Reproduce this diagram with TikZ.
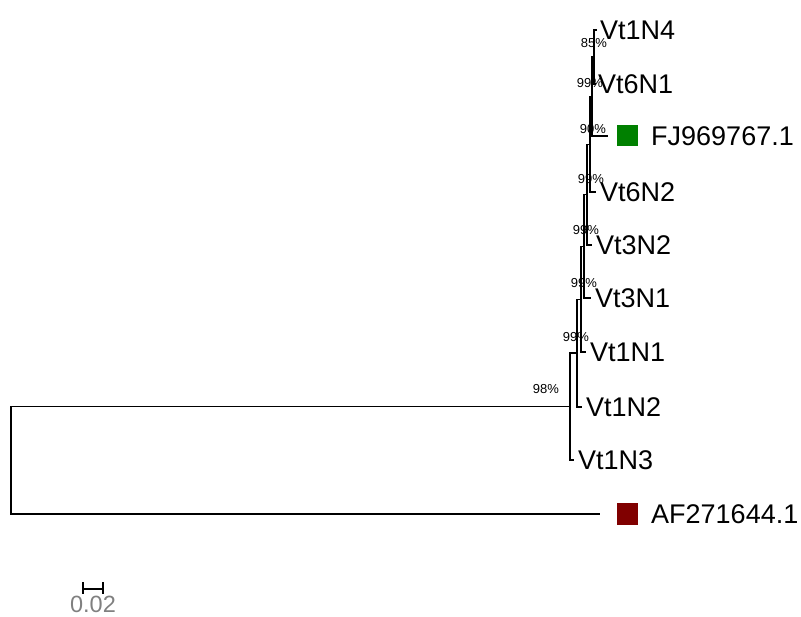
\documentclass[tikz,border=0pt]{standalone}
\usepackage{fontspec}
\setmainfont{Liberation Sans}
\definecolor{fjgreen}{RGB}{0,128,0}
\definecolor{afred}{RGB}{128,0,0}
\begin{document}
\begin{tikzpicture}[x=1pt,y=-1pt,
  branch/.style={line width=1.3pt},
  taxon/.style={anchor=west,inner sep=0pt,font=\fontsize{27}{27}\selectfont},
  boot/.style={inner sep=0pt,font=\fontsize{13}{13}\selectfont},
  tagbox/.style={minimum size=21pt,inner sep=0pt}]
  \useasboundingbox (0,0) rectangle (801,617);
  % leaf tips
  \coordinate (t1) at (597,30);
  \coordinate (t2) at (596,84);
  \coordinate (tFJ) at (608,136);
  \coordinate (t4) at (596,192);
  \coordinate (t5) at (592,245);
  \coordinate (t6) at (591,298);
  \coordinate (t7) at (586,352);
  \coordinate (t8) at (582,407);
  \coordinate (t9) at (574,460);
  \coordinate (tAF) at (600,514);
  % inner nodes
  \coordinate (n85) at (594,57);
  \coordinate (nA) at (592,96.5);
  \coordinate (n90) at (590,144.3);
  \coordinate (nB) at (587,194.6);
  \coordinate (nC) at (584,246.3);
  \coordinate (nD) at (581,299.2);
  \coordinate (nE) at (577,353.1);
  \coordinate (n98) at (570,406.5);
  \coordinate (r) at (11,460.3);
  % branches
  \draw[branch] (r) |- (n98);
  \draw[branch] (r) |- (tAF);
  \draw[branch] (n98) |- (nE);
  \draw[branch] (n98) |- (t9);
  \draw[branch] (nE) |- (nD);
  \draw[branch] (nE) |- (t8);
  \draw[branch] (nD) |- (nC);
  \draw[branch] (nD) |- (t7);
  \draw[branch] (nC) |- (nB);
  \draw[branch] (nC) |- (t6);
  \draw[branch] (nB) |- (n90);
  \draw[branch] (nB) |- (t5);
  \draw[branch] (n90) |- (nA);
  \draw[branch] (n90) |- (t4);
  \draw[branch] (nA) |- (n85);
  \draw[branch] (nA) |- (tFJ);
  \draw[branch] (n85) |- (t1);
  \draw[branch] (n85) |- (t2);
  % taxa
  \node[taxon] (l1) at ([xshift=3pt]t1) {Vt1N4};
  \node[taxon] (l2) at ([xshift=2pt]t2) {Vt6N1};
  \node[tagbox,fill=fjgreen] (sqFJ) at (627,136) {};
  \node[taxon] (lFJ) at (651,136) {FJ969767.1};
  \node[taxon] (l4) at ([xshift=4pt]t4) {Vt6N2};
  \node[taxon] (l5) at ([xshift=4pt]t5) {Vt3N2};
  \node[taxon] (l6) at ([xshift=4pt]t6) {Vt3N1};
  \node[taxon] (l7) at ([xshift=4pt]t7) {Vt1N1};
  \node[taxon] (l8) at ([xshift=4pt]t8) {Vt1N2};
  \node[taxon] (l9) at ([xshift=4pt]t9) {Vt1N3};
  \node[tagbox,fill=afred] (sqAF) at (627,514) {};
  \node[taxon] (lAF) at (651,514) {AF271644.1};
  % bootstrap values
  \node[boot] (b85) at (594,43) {85\%};
  \node[boot] (bA) at (590,83) {99\%};
  \node[boot] (b90) at (593,129) {90\%};
  \node[boot] (bB) at (591,179) {99\%};
  \node[boot] (bC) at (586,230) {99\%};
  \node[boot] (bD) at (584,283) {99\%};
  \node[boot] (bE) at (576,337) {99\%};
  \node[boot] (b98) at (546,389) {98\%};
  % scale bar
  \coordinate (s0) at (83,589);
  \coordinate (s1) at (103,589);
  \draw[line width=2.2pt] (s0) -- (s1);
  \draw[line width=2.2pt] ([yshift=7pt]s0) -- ([yshift=-5pt]s0);
  \draw[line width=2.2pt] ([yshift=7pt]s1) -- ([yshift=-5pt]s1);
  \node[inner sep=0pt,text=gray,font=\fontsize{23.5}{23.5}\selectfont] (sl) at (93,604) {0.02};
\end{tikzpicture}
\end{document}
